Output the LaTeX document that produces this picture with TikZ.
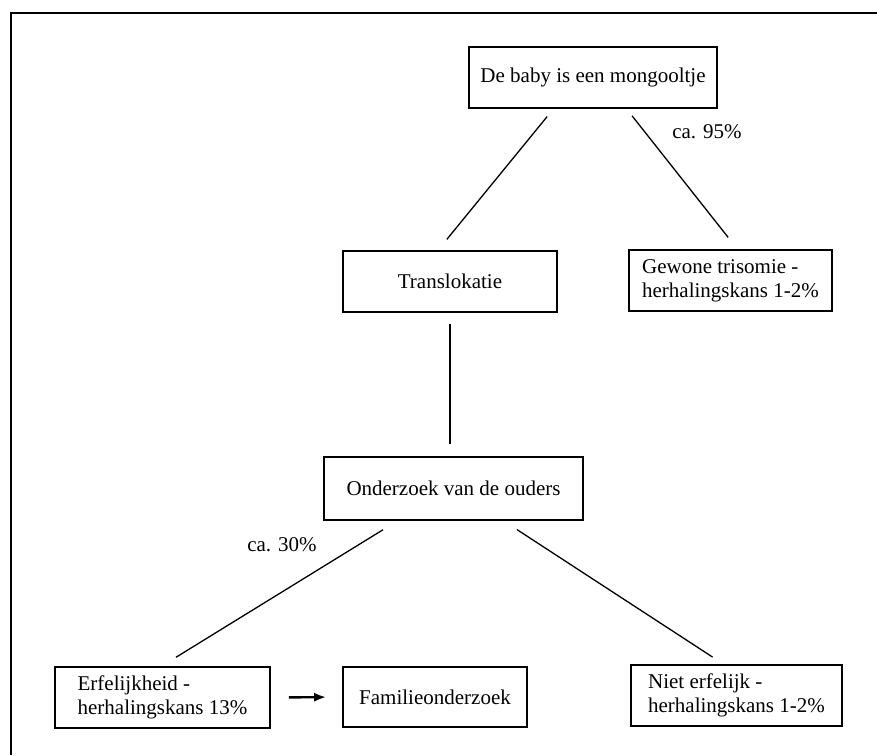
\documentclass[tikz,border=0pt]{standalone}
\usepackage{fontspec}
\setmainfont{Liberation Serif}
\usetikzlibrary{arrows.meta}
\tikzset{
	vak/.style={draw, line width=1.6pt, inner sep=0pt, minimum height=61pt, align=left, font=\fontsize{21}{24}\selectfont},
	lijn/.style={line width=1.3pt},
	pct/.style={font=\fontsize{21}{24}\selectfont}
}
\begin{document}
\begin{tikzpicture}[x=1pt,y=-1pt]
		\useasboundingbox (0,0) rectangle (877,755);
		\draw[line width=1.8pt] (11,755) -- (11,13) -- (877,13);
		\node (Ba) at (593,77.5) [vak, minimum width=248pt] {De baby is een mongooltje};
		\node (Tr) at (450,281.5) [vak, minimum width=214pt] {Translokatie};
		\node (Gt) at (730.5,280.5) [vak, minimum width=203pt] {Gewone trisomie -\\herhalingskans 1-2\%};
		\node (Ou) at (453.5,488.5) [vak, minimum width=259pt, minimum height=63pt] {Onderzoek van de ouders};
		\node (Er) at (162.5,697.5) [vak, minimum width=215pt] {Erfelijkheid -\\herhalingskans 13\%};
		\node (Fa) at (435,697) [vak, minimum width=184pt, minimum height=60pt] {Familieonderzoek};
		\node (Ne) at (736.5,695.5) [vak, minimum width=211pt] {Niet erfelijk -\\herhalingskans 1-2\%};
		\node (p95) at (707,132) [pct] {ca. 95\%};
		\node (p30) at (282,545) [pct] {ca. 30\%};
		\draw[lijn, shorten <=10pt, shorten >=14pt] ([xshift=-39.5pt]Ba.south) -- ([xshift=-12pt]Tr.north);
		\draw[lijn, shorten <=9pt, shorten >=15pt] ([xshift=33.5pt]Ba.south) -- ([xshift=7pt]Gt.north);
		\draw[lijn, shorten <=11pt, shorten >=12pt] (Tr.south) -- ([xshift=-3.5pt]Ou.north);
		\draw[lijn, shorten <=17pt, shorten >=17pt] ([xshift=-56pt]Ou.south) -- ([xshift=-1pt]Er.north);
		\draw[lijn, shorten <=16pt, shorten >=13pt] ([xshift=50pt]Ou.south) -- ([xshift=-13pt]Ne.north);
		\draw[line width=2.4pt, -{Latex[length=12pt,width=9pt]}, shorten <=18pt, shorten >=16pt] (Er.east) -- (Fa.west);
	\end{tikzpicture}
\end{document}
